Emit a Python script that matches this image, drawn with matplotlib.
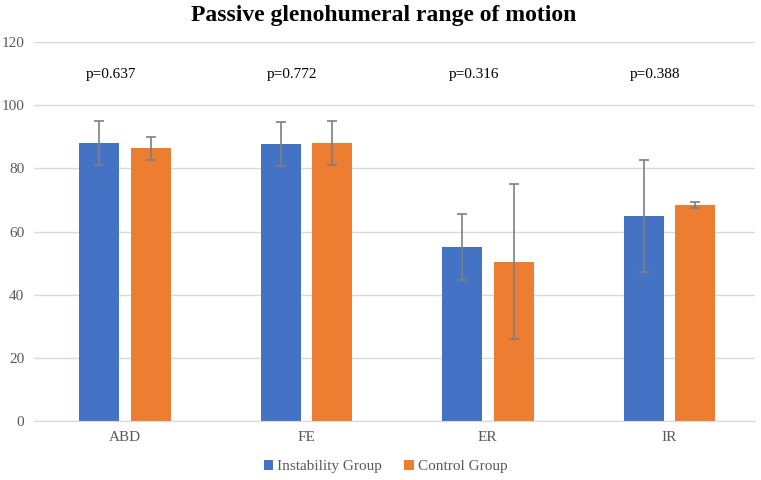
import numpy as np
import matplotlib
matplotlib.use('Agg')
import matplotlib.pyplot as plt

# Data
categories = ['ABD', 'FE', 'ER', 'IR']
instability = [87.9, 87.6, 55.0, 64.9]
instability_err = [7.0, 7.0, 10.5, 17.7]
control = [86.3, 88.1, 50.5, 68.4]
control_err = [3.6, 7.0, 24.6, 0.8]
p_values = ['p=0.637', 'p=0.772', 'p=0.316', 'p=0.388']

plt.rcParams['font.family'] = ['Liberation Serif', 'DejaVu Serif']

fig = plt.figure(figsize=(7.61, 4.8), dpi=100)
ax = fig.add_axes([0.0447, 0.1229, 0.947, 0.7896])

x = np.arange(len(categories))
w = 0.22
off = 0.142
ekw = dict(ecolor='#7f7f7f', elinewidth=1.2, capsize=3.5, capthick=1.2)
ax.bar(x - off, instability, w, yerr=instability_err, color='#4472c4',
       label='Instability Group', error_kw=ekw, zorder=2)
ax.bar(x + off, control, w, yerr=control_err, color='#ed7d31',
       label='Control Group', error_kw=ekw, zorder=2)

# p-value labels sit a little left of each group centre
for xi, p in zip(x, p_values):
    ax.text(xi - 0.078, 109.6, p, ha='center', va='center', fontsize=11, color='black')

ax.set_xlim(-0.5, 3.47)
ax.set_ylim(0, 120)
ax.set_yticks(range(0, 121, 20))
ax.set_xticks(x)
ax.set_xticklabels(categories)
ax.yaxis.grid(True, color='#d9d9d9', linewidth=1, zorder=0)
ax.set_axisbelow(True)
for s in ['top', 'right', 'left']:
    ax.spines[s].set_visible(False)
ax.spines['bottom'].set_color('#d9d9d9')
ax.tick_params(axis='both', length=0, colors='#595959', labelsize=11)
ax.tick_params(axis='y', pad=7)
ax.tick_params(axis='x', pad=7)

fig.text(0.504, 1 - 15 / 480, 'Passive glenohumeral range of motion', fontsize=17,
         fontweight='bold', ha='center', va='center')

ax.legend(loc='center', bbox_to_anchor=(0.488, -0.12), ncol=2, frameon=False,
          fontsize=11, handlelength=0.6, handleheight=0.6, handletextpad=0.3,
          columnspacing=1.45, labelcolor='#595959')

fig.savefig('out.png', dpi=100)
